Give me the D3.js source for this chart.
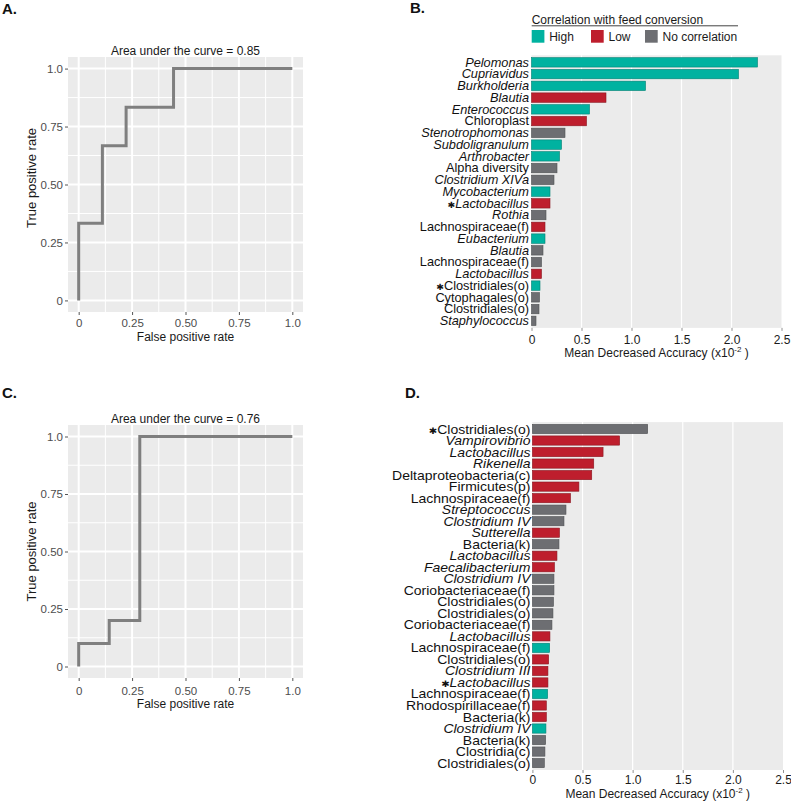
<!DOCTYPE html>
<html><head><meta charset="utf-8">
<script src="https://cdn.jsdelivr.net/npm/d3@7"></script>
<style>body{margin:0;background:#fff}svg{display:block;font-family:"Liberation Sans",Arial,Helvetica,sans-serif}</style>
</head><body><svg id="c" width="791" height="801"></svg>
<script>
// ---------- DATA ----------
const rocA_fpr = [0, 0, 0.111, 0.222, 0.444, 1];
const rocA_tpr = [0, 0.333, 0.667, 0.833, 1, 1];
const rocC_fpr = [0, 0, 0.143, 0.286, 1];
const rocC_tpr = [0, 0.1, 0.2, 1, 1];
const rocTicks = [0, 0.25, 0.5, 0.75, 1];
const rocTickLabels = ["0", "0.25", "0.50", "0.75", "1.0"];
const rocMinor = [0.125, 0.375, 0.625, 0.875];
const titleA = "Area under the curve = 0.85";
const titleC = "Area under the curve = 0.76";

const groups = ["High", "Low", "No correlation"];
const groupColors = ["#00B2A0", "#BE1E2D", "#6D6E72"];

const catsB = ["Pelomonas","Cupriavidus","Burkholderia","Blautia","Enterococcus","Chloroplast",
  "Stenotrophomonas","Subdoligranulum","Arthrobacter","Alpha diversity","Clostridium XIVa",
  "Mycobacterium","*Lactobacillus","Rothia","Lachnospiraceae(f)","Eubacterium","Blautia",
  "Lachnospiraceae(f)","Lactobacillus","*Clostridiales(o)","Cytophagales(o)","Clostridiales(o)",
  "Staphylococcus"];
const valsB = [2.26,2.07,1.14,0.745,0.58,0.55,0.335,0.30,0.28,0.255,0.225,0.185,0.185,0.145,
  0.135,0.135,0.115,0.10,0.10,0.085,0.08,0.075,0.045];
const corrB = ["High","High","High","Low","High","Low","No correlation","High","High",
  "No correlation","No correlation","High","Low","No correlation","Low","High",
  "No correlation","No correlation","Low","High","No correlation","No correlation","No correlation"];

const catsD = ["*Clostridiales(o)","Vampirovibrio","Lactobacillus","Rikenella","Deltaproteobacteria(c)",
  "Firmicutes(p)","Lachnospiraceae(f)","Streptococcus","Clostridium IV","Sutterella","Bacteria(k)",
  "Lactobacillus","Faecalibacterium","Clostridium IV","Coriobacteriaceae(f)","Clostridiales(o)",
  "Clostridiales(o)","Coriobacteriaceae(f)","Lactobacillus","Lachnospiraceae(f)","Clostridiales(o)",
  "Clostridium III","*Lactobacillus","Lachnospiraceae(f)","Rhodospirillaceae(f)","Bacteria(k)",
  "Clostridium IV","Bacteria(k)","Clostridia(c)","Clostridiales(o)"];
const valsD = [1.15,0.87,0.705,0.612,0.592,0.464,0.38,0.335,0.315,0.27,0.265,0.245,0.22,0.215,
  0.215,0.21,0.205,0.195,0.175,0.172,0.162,0.155,0.155,0.152,0.139,0.139,0.135,0.132,0.125,0.119];
const corrD = ["No correlation","Low","Low","Low","Low","Low","Low","No correlation","No correlation",
  "Low","No correlation","Low","Low","No correlation","No correlation","No correlation","No correlation",
  "No correlation","Low","High","Low","Low","Low","High","Low","Low","High","No correlation",
  "No correlation","No correlation"];

const accTicks = [0, 0.5, 1, 1.5, 2, 2.5];
const accTickLabels = ["0", "0.5", "1.0", "1.5", "2.0", "2.5"];
const legendTitle = "Correlation with feed conversion";
const accTitle = "Mean Decreased Accuracy (x10";
const accSup = "-2";

// ---------- DRAW ----------
const svg = d3.select("#c");
const color = d3.scaleOrdinal().domain(groups).range(groupColors);
const PANEL = "#EBEBEB";

function letter(txt, x, y) {
  svg.append("text").attr("x", x).attr("y", y).attr("font-size", 15)
    .attr("font-weight", "bold").attr("fill", "#111").text(txt);
}

function roc(box, fpr, tpr, title, tickPad, xTitleY, yTitleY) {
  const g = svg.append("g");
  const x = d3.scaleLinear().domain([-0.05, 1.05]).range([box.l, box.r]);
  const y = d3.scaleLinear().domain([-0.05, 1.05]).range([box.b, box.t]);
  g.append("rect").attr("x", box.l).attr("y", box.t).attr("width", box.r - box.l)
    .attr("height", box.b - box.t).attr("fill", PANEL);
  g.selectAll(".mv").data(rocMinor).join("line").attr("x1", d => x(d)).attr("x2", d => x(d))
    .attr("y1", box.t).attr("y2", box.b).attr("stroke", "#fff").attr("stroke-width", 1);
  g.selectAll(".mh").data(rocMinor).join("line").attr("y1", d => y(d)).attr("y2", d => y(d))
    .attr("x1", box.l).attr("x2", box.r).attr("stroke", "#fff").attr("stroke-width", 1);
  g.selectAll(".Mv").data(rocTicks).join("line").attr("x1", d => x(d)).attr("x2", d => x(d))
    .attr("y1", box.t).attr("y2", box.b).attr("stroke", "#fff").attr("stroke-width", 2);
  g.selectAll(".Mh").data(rocTicks).join("line").attr("y1", d => y(d)).attr("y2", d => y(d))
    .attr("x1", box.l).attr("x2", box.r).attr("stroke", "#fff").attr("stroke-width", 2);
  const line = d3.line().x(d => x(d[0])).y(d => y(d[1])).curve(d3.curveStepAfter);
  g.append("path").attr("d", line(d3.zip(fpr, tpr))).attr("fill", "none")
    .attr("stroke", "#7F7F7F").attr("stroke-width", 3);
  g.append("text").attr("x", (box.l + box.r) / 2).attr("y", box.t - 2.5)
    .attr("text-anchor", "middle").attr("font-size", 12).attr("fill", "#1a1a1a").text(title);
  const ya = g.append("g").attr("transform", `translate(${box.l},0)`)
    .call(d3.axisLeft(y).tickValues(rocTicks).tickFormat((d, i) => rocTickLabels[i]).tickSize(3).tickPadding(2));
  const xa = g.append("g").attr("transform", `translate(0,${box.b})`)
    .call(d3.axisBottom(x).tickValues(rocTicks).tickFormat((d, i) => rocTickLabels[i]).tickSize(3).tickPadding(tickPad));
  [ya, xa].forEach(a => {
    a.select(".domain").remove();
    a.selectAll("line").attr("stroke", "#555");
    a.selectAll("text").attr("fill", "#4D4D4D").attr("font-size", 11.5)
      .attr("font-family", "'Liberation Sans',Arial,sans-serif");
  });
  g.append("text").attr("x", (box.l + box.r) / 2).attr("y", xTitleY).attr("text-anchor", "middle")
    .attr("font-size", 12).attr("fill", "#1a1a1a").text("False positive rate");
  g.append("text").attr("transform", `translate(35.5,${yTitleY}) rotate(-90)`)
    .attr("text-anchor", "middle").attr("font-size", 13).attr("fill", "#1a1a1a").text("True positive rate");
}

function isItalic(name) { return !/\(|Chloroplast|Alpha diversity/.test(name); }

function bars(box, cats, vals, corr, labelSize, labelScale, labelX, tickPad, titleY) {
  const g = svg.append("g");
  const idx = d3.range(cats.length);
  const x = d3.scaleLinear().domain([0, 2.5]).range([box.l, box.r]);
  const y = d3.scaleBand().domain(idx).range([box.t, box.b]).paddingInner(0.2).paddingOuter(0.2);
  g.append("rect").attr("x", box.l).attr("y", box.t).attr("width", box.r - box.l)
    .attr("height", box.b - box.t).attr("fill", PANEL);
  g.selectAll(".gv").data(accTicks.slice(1, -1)).join("line").attr("x1", d => x(d)).attr("x2", d => x(d))
    .attr("y1", box.t).attr("y2", box.b).attr("stroke", "#fff").attr("stroke-width", 1.2);
  g.selectAll(".bar").data(idx).join("rect")
    .attr("x", x(0)).attr("y", i => y(i)).attr("width", i => x(vals[i]) - x(0))
    .attr("height", y.bandwidth()).attr("fill", i => color(corr[i]))
    .attr("stroke", i => d3.color(color(corr[i])).darker(0.9)).attr("stroke-width", 0.6);
  const lg = g.append("g").attr("transform", `translate(${labelX},0) scale(${labelScale},1)`);
  const lab = lg.selectAll(".lab").data(idx).join("text")
    .attr("x", 0).attr("y", i => y(i) + y.bandwidth() / 2).attr("dy", "0.36em")
    .attr("text-anchor", "end").attr("font-size", labelSize).attr("fill", "#111");
  lab.each(function (i) {
    const t = d3.select(this);
    let name = cats[i];
    if (name.startsWith("*")) {
      name = name.slice(1);
      t.append("tspan").attr("font-family", "'DejaVu Sans',sans-serif").attr("font-size", labelSize * 0.72)
        .attr("font-weight", "bold").text("\u2731");
    }
    t.append("tspan").attr("font-style", isItalic(name) ? "italic" : "normal").text(name);
  });
  const xa = g.append("g").attr("transform", `translate(0,${box.b})`)
    .call(d3.axisBottom(x).tickValues(accTicks).tickFormat((d, i) => accTickLabels[i]).tickSize(3).tickPadding(tickPad));
  xa.select(".domain").remove();
  xa.selectAll("line").attr("stroke", "#777").attr("stroke-width", 0.8);
  xa.selectAll("text").attr("fill", "#1a1a1a").attr("font-size", 12)
    .attr("font-family", "'Liberation Sans',Arial,sans-serif");
  const tt = g.append("text").attr("x", (box.l + box.r) / 2).attr("y", titleY)
    .attr("text-anchor", "middle").attr("font-size", 12).attr("fill", "#1a1a1a");
  tt.append("tspan").text(accTitle);
  tt.append("tspan").attr("font-size", 8).attr("dy", -5).text(accSup);
  tt.append("tspan").attr("dy", 5).text(" )");
  return { x, y };
}

// Panel letters
letter("A.", 2, 14);
letter("B.", 410, 13);
letter("C.", 2, 398);
letter("D.", 405, 398);

// ROC panels
roc({ l: 68, r: 303, t: 57, b: 312 }, rocA_fpr, rocA_tpr, titleA, 3.8, 341, 178);
roc({ l: 68, r: 303, t: 425, b: 678 }, rocC_fpr, rocC_tpr, titleC, 5.8, 708, 551.5);

// Bar panels
bars({ l: 531.5, r: 781.5, t: 55.3, b: 327.9 }, catsB, valsB, corrB, 12, 1.065, 529, 4.5, 357);
bars({ l: 532.4, r: 783, t: 422.1, b: 770 }, catsD, valsD, corrD, 12.5, 1.12, 530.5, 2.5, 798);

// Legend (panel B)
const lgd = svg.append("g");
lgd.append("text").attr("x", 531.7).attr("y", 23.5).attr("font-size", 12).attr("fill", "#1a1a1a").text(legendTitle);
lgd.append("line").attr("x1", 531.7).attr("x2", 738).attr("y1", 25.8).attr("y2", 25.8)
  .attr("stroke", "#444").attr("stroke-width", 1);
const legX = [531.7, 591, 645];
const items = lgd.selectAll(".it").data(groups).join("g")
  .attr("transform", (d, i) => `translate(${legX[i]},30)`);
items.append("rect").attr("width", 12.7).attr("height", 12.7).attr("fill", d => color(d));
items.append("text").attr("x", 17.5).attr("y", 10.5).attr("font-size", 12).attr("fill", "#1a1a1a").text(d => d);
</script></body></html>
